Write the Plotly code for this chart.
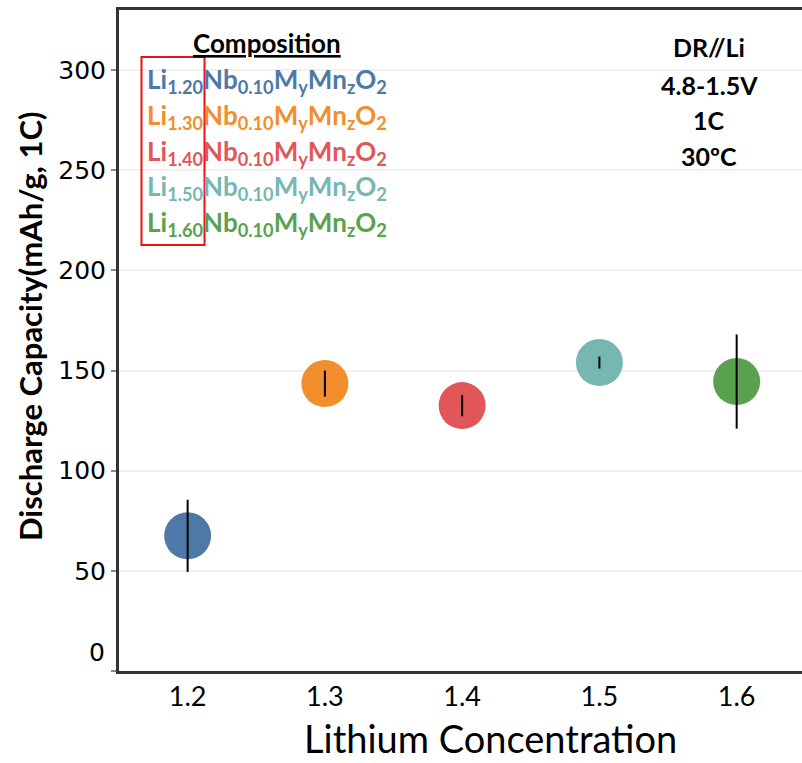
import plotly.graph_objects as go

# ---- data ----
li_conc = [1.2, 1.3, 1.4, 1.5, 1.6]
capacity = [67.5, 143.5, 132.5, 154.0, 144.5]
cap_err = [18.0, 6.5, 5.3, 3.0, 23.5]
colors = ["#4e79a7", "#f28e2b", "#e15759", "#76b7b2", "#59a14f"]
li_labels = ["1.20", "1.30", "1.40", "1.50", "1.60"]
y_ticks = [0, 50, 100, 150, 200, 250, 300]
x_ticks = [1.2, 1.3, 1.4, 1.5, 1.6]
cond_lines = ["DR//Li", "4.8-1.5V", "1C", "30ºC"]

W, H = 802, 763
L, R, T, B = 119, 0, 10, 92
pw, ph = W - L - R, H - T - B


def px(x):
    return (x - L) / pw


def py(y):
    return (H - B - y) / ph


fig = go.Figure()
# markers
fig.add_trace(go.Scatter(
    x=li_conc, y=capacity, mode="markers",
    marker=dict(size=47, color=colors, line=dict(width=0)),
    showlegend=False, hoverinfo="skip"))
# error bars on top
fig.add_trace(go.Scatter(
    x=li_conc, y=capacity, mode="markers",
    marker=dict(size=1, color="rgba(0,0,0,0)"),
    error_y=dict(type="data", array=cap_err, visible=True,
                 color="black", thickness=2, width=0),
    showlegend=False, hoverinfo="skip"))

calibri = "Lato, 'Open Sans', sans-serif"
annotations = []
# Composition header
annotations.append(dict(x=px(267), y=py(43), xref="paper", yref="paper",
                        text="<b><u>Composition</u></b>", showarrow=False,
                        font=dict(family=calibri, size=26, color="black"),
                        xanchor="center", yanchor="middle"))
row_y = [80, 116, 152, 188, 223]
for lab, c, yy in zip(li_labels, colors, row_y):
    txt = ("<b>Li<sub>%s</sub>Nb<sub>0.10</sub>M<sub>y</sub>Mn<sub>z</sub>O<sub>2</sub></b>" % lab)
    annotations.append(dict(x=px(145), y=py(yy), xref="paper", yref="paper",
                            text=txt, showarrow=False,
                            font=dict(family=calibri, size=26, color=c),
                            xanchor="left", yanchor="middle"))
cond_y = [47, 85, 120, 156]
for t, yy in zip(cond_lines, cond_y):
    annotations.append(dict(x=px(709), y=py(yy), xref="paper", yref="paper",
                            text="<b>%s</b>" % t, showarrow=False,
                            font=dict(family=calibri, size=25, color="black"),
                            xanchor="center", yanchor="middle"))
# zero tick label (shifted up like reference)
annotations.append(dict(x=px(107), y=py(652), xref="paper", yref="paper",
                        text="0", showarrow=False,
                        font=dict(family="DejaVu Sans", size=25, color="black"),
                        xanchor="right", yanchor="middle"))
# y-axis title
annotations.append(dict(x=px(30), y=py(327), xref="paper", yref="paper",
                        text="<b>Discharge Capacity(mAh/g, 1C)</b>",
                        textangle=-90, showarrow=False,
                        font=dict(family=calibri, size=31, color="black"),
                        xanchor="center", yanchor="middle"))
# x-axis title
annotations.append(dict(x=px(490), y=py(738), xref="paper", yref="paper",
                        text="Lithium Concentration", showarrow=False,
                        font=dict(family=calibri, size=38, color="black"),
                        xanchor="center", yanchor="middle"))

fig.update_layout(
    width=W, height=H,
    margin=dict(l=L, r=R, t=T, b=B),
    paper_bgcolor="white", plot_bgcolor="white",
    annotations=annotations,
    shapes=[dict(type="rect", xref="paper", yref="paper",
                 x0=px(141.5), x1=px(204.5), y0=py(245), y1=py(57),
                 line=dict(color="#ee1111", width=2))],
    xaxis=dict(range=[1.15, 1.6476], tickvals=x_ticks,
               ticktext=[str(v) for v in x_ticks],
               showgrid=False, zeroline=False,
               showline=True, linecolor="#333333", linewidth=3, mirror=True,
               ticks="", tickfont=dict(family=calibri, size=27, color="black")),
    yaxis=dict(range=[0, 330], tickvals=y_ticks,
               ticktext=["" if v == 0 else str(v) for v in y_ticks],
               showgrid=True, gridcolor="#f0f0f0", gridwidth=1.5,
               zeroline=False,
               showline=True, linecolor="#333333", linewidth=3,
               ticks="outside", ticklen=5, tickcolor="#888888", tickwidth=1.5,
               tickfont=dict(family="DejaVu Sans", size=25, color="black")),
)

fig.write_html("out.html")
